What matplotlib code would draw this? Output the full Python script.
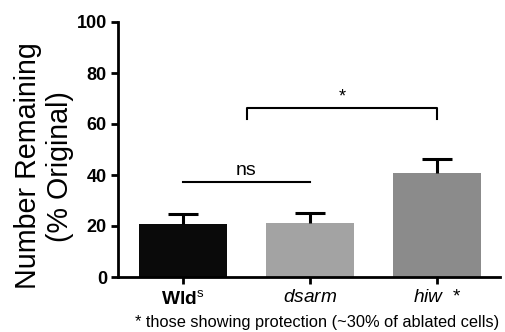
import matplotlib
matplotlib.use("Agg")
import matplotlib.pyplot as plt
import numpy as np

categories = [r"$\mathbf{Wld}^{\mathrm{s}}$", r"$\mathit{dsarm}$", r"$\mathit{hiw}\ \ \mathrm{*}$"]
means = [20.8, 21.3, 40.9]
errors = [3.9, 3.9, 5.4]
colors = ["#0a0a0a", "#a3a3a3", "#8b8b8b"]
yticks = [0, 20, 40, 60, 80, 100]

plt.rcParams['font.family'] = ['Liberation Sans', 'DejaVu Sans']
plt.rcParams['mathtext.fontset'] = 'custom'
plt.rcParams['mathtext.rm'] = 'Liberation Sans'
plt.rcParams['mathtext.it'] = 'Liberation Sans:italic'
plt.rcParams['mathtext.bf'] = 'Liberation Sans:bold'

fig = plt.figure(figsize=(5.05, 3.32), dpi=100)
ax = fig.add_axes([118/505, 1-277/332, (500-118)/505, 255/332])

x = np.arange(len(means))
ax.bar(x, means, width=0.70, color=colors, zorder=2)
eb = ax.errorbar(x, means, yerr=[np.zeros(len(errors)), errors], fmt='none',
                 ecolor='black', elinewidth=2.2, capsize=10.5, capthick=2.2, zorder=3)
eb[1][0].set_visible(False)

ax.set_xlim(-0.512, 2.496)
ax.set_ylim(0, 100)
ax.set_yticks(yticks)
ax.set_yticklabels([str(t) for t in yticks], fontsize=13, fontweight='bold')
ax.set_xticks(x)
ax.set_xticklabels(categories, fontsize=13.8)
ax.tick_params(axis='both', direction='out', length=5, width=2, pad=3)
ax.tick_params(axis='x', pad=4)
for s in ['top', 'right']:
    ax.spines[s].set_visible(False)
for s in ['left', 'bottom']:
    ax.spines[s].set_linewidth(2)

ax.set_ylabel("Number Remaining\n(% Original)", fontsize=20.6, linespacing=1.2)
ax.yaxis.set_label_coords(-0.115, 0.435)

# significance annotations
ax.plot([0, 1], [37.2, 37.2], color='black', lw=1.5, clip_on=False)
ax.text(0.5, 38.3, "ns", ha='center', va='bottom', fontsize=14)
ax.plot([0.5, 0.5, 2, 2], [62.0, 66.3, 66.3, 62.0], color='black', lw=1.5, clip_on=False)
ax.text(1.25, 67.2, "*", ha='center', va='bottom', fontsize=13)

fig.text(317/505, 1-322/332, "* those showing protection (~30% of ablated cells)",
         ha='center', va='center', fontsize=11.8)

fig.savefig("out.png", dpi=100, facecolor='white')
